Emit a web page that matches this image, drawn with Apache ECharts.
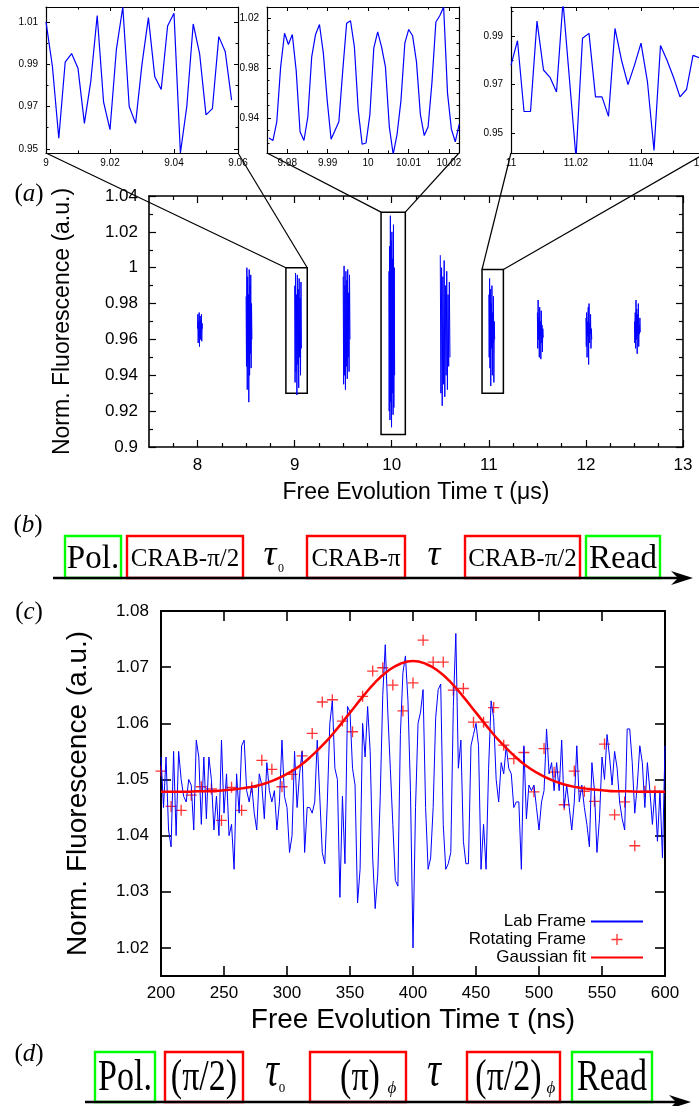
<!DOCTYPE html>
<html>
<head>
<meta charset="utf-8">
<title>Fluorescence vs free evolution time</title>
<script src="https://cdn.jsdelivr.net/npm/echarts@6.0.0/dist/echarts.min.js"></script>
<style>
  html, body { margin: 0; padding: 0; background: #fff; }
  #chart { width: 699px; height: 1106px; }
</style>
</head>
<body>
<div id="chart"></div>
<script>
// ---------- values ----------

// panel (a): one short burst of samples every 0.5 us
const burstStart = [8.0, 8.5, 9.0, 9.5, 9.97, 10.5, 11.0, 11.5, 12.0, 12.5];
const burstSpan = [0.05, 0.06, 0.07, 0.07, 0.06, 0.1, 0.06, 0.06, 0.06, 0.06];
const burstValues = [
  [0.966, 0.974, 0.958, 0.970, 0.962, 0.975, 0.956, 0.968, 0.973, 0.960, 0.971, 0.964, 0.974, 0.959, 0.969, 0.966],
  [0.984, 0.945, 1.000, 0.932, 0.995, 0.948, 0.985, 0.925, 0.999, 0.940, 0.990, 0.952, 0.996, 0.944, 0.980, 0.960],
  [0.990, 0.936, 0.997, 0.942, 0.985, 0.929, 0.996, 0.946, 0.988, 0.933, 0.994, 0.950, 0.983, 0.940, 0.992, 0.955],
  [0.995, 0.935, 1.001, 0.940, 0.990, 0.932, 0.998, 0.945, 0.993, 0.938, 0.999, 0.950, 0.986, 0.942, 0.996, 0.960],
  [0.998, 0.920, 1.012, 0.915, 1.029, 0.925, 1.015, 0.911, 1.020, 0.930, 1.005, 0.918, 1.024, 0.922, 1.000, 0.940],
  [1.007, 0.930, 1.000, 0.923, 0.995, 0.935, 1.004, 0.928, 0.990, 0.940, 0.998, 0.932, 0.985, 0.945, 0.992, 0.950],
  [0.985, 0.950, 0.994, 0.944, 0.988, 0.934, 0.980, 0.955, 0.990, 0.940, 0.975, 0.958, 0.984, 0.936, 0.970, 0.960],
  [0.975, 0.955, 0.982, 0.960, 0.972, 0.950, 0.978, 0.962, 0.970, 0.949, 0.976, 0.958, 0.968, 0.953, 0.966, 0.961],
  [0.972, 0.956, 0.975, 0.950, 0.970, 0.962, 0.978, 0.946, 0.980, 0.958, 0.969, 0.963, 0.974, 0.955, 0.966, 0.960],
  [0.970, 0.958, 0.975, 0.955, 0.982, 0.960, 0.977, 0.952, 0.974, 0.962, 0.980, 0.956, 0.968, 0.963, 0.972, 0.964]
];
// zoom windows marked on panel (a): [x0, x1, y0, y1]
const zoomBoxes = [[8.91, 9.13, 0.93, 1.0], [9.89, 10.14, 0.907, 1.031], [10.93, 11.15, 0.93, 0.999]];

// the three insets
const insetAStart = 9.0, insetAStep = 0.002;
const insetAValues = [1.010, 0.989, 0.955, 0.991, 0.995, 0.988, 0.962, 0.982, 1.013, 0.972,
  0.959, 0.997, 1.017, 0.970, 0.962, 0.990, 1.012, 0.984, 0.978, 1.008,
  1.014, 0.948, 0.970, 1.009, 0.995, 0.966, 0.969, 1.003, 0.996, 0.973];
const insetBStart = 9.9755, insetBStep = 0.00096;
const insetBValues = [0.924, 0.922, 0.937, 0.981, 1.008, 0.999, 1.007, 0.978, 0.929, 0.922,
  0.941, 0.989, 1.007, 1.015, 0.992, 0.954, 0.923, 0.930, 0.937, 0.978,
  1.016, 1.018, 0.997, 0.946, 0.919, 0.920, 0.943, 0.996, 1.009, 0.997,
  0.981, 0.933, 0.911, 0.927, 0.954, 1.000, 1.011, 1.006, 0.985, 0.943,
  0.926, 0.933, 0.969, 1.017, 1.022, 1.029, 0.960, 0.931, 0.921, 0.935];
const insetCStart = 11.0, insetCStep = 0.002;
const insetCValues = [0.978, 0.988, 0.959, 0.959, 0.996, 0.976, 0.973, 0.967, 1.004, 0.972,
  0.940, 0.989, 0.991, 0.965, 0.965, 0.957, 0.993, 0.980, 0.970, 0.978,
  0.987, 0.971, 0.943, 0.986, 0.980, 0.973, 0.965, 0.968, 0.982, 0.981];

// panel (c)
const labStart = 200, labStep = 2;
const labValues = [
  1.054, 1.045, 1.054, 1.041, 1.038, 1.055, 1.040, 1.055, 1.050, 1.047,
  1.046, 1.050, 1.049, 1.041, 1.057, 1.054, 1.042, 1.054, 1.043, 1.054,
  1.050, 1.041, 1.047, 1.040, 1.057, 1.044, 1.051, 1.040, 1.042, 1.034,
  1.051, 1.044, 1.056, 1.057, 1.048, 1.046, 1.049, 1.044, 1.041, 1.051,
  1.049, 1.043, 1.053, 1.048, 1.046, 1.048, 1.041, 1.046, 1.057, 1.047,
  1.045, 1.037, 1.040, 1.055, 1.045, 1.051, 1.055, 1.037, 1.045, 1.045,
  1.044, 1.046, 1.057, 1.047, 1.037, 1.035, 1.046, 1.060, 1.064, 1.052,
  1.050, 1.029, 1.047, 1.035, 1.063, 1.062, 1.052, 1.049, 1.028, 1.034,
  1.060, 1.054, 1.063, 1.055, 1.036, 1.027, 1.033, 1.047, 1.065, 1.074,
  1.062, 1.052, 1.042, 1.032, 1.031, 1.058, 1.069, 1.072, 1.064, 1.048,
  1.020, 1.045, 1.060, 1.062, 1.066, 1.045, 1.034, 1.036, 1.045, 1.061,
  1.066, 1.067, 1.042, 1.034, 1.035, 1.037, 1.063, 1.076, 1.052, 1.057,
  1.039, 1.035, 1.035, 1.056, 1.058, 1.060, 1.056, 1.034, 1.042, 1.034,
  1.052, 1.064, 1.061, 1.050, 1.046, 1.053, 1.051, 1.056, 1.052, 1.051,
  1.045, 1.046, 1.046, 1.034, 1.056, 1.043, 1.049, 1.048, 1.049, 1.045,
  1.041, 1.046, 1.048, 1.059, 1.051, 1.053, 1.048, 1.053, 1.048, 1.057,
  1.045, 1.049, 1.045, 1.041, 1.046, 1.056, 1.046, 1.049, 1.045, 1.042,
  1.038, 1.053, 1.048, 1.037, 1.043, 1.054, 1.050, 1.058, 1.054, 1.049,
  1.055, 1.052, 1.046, 1.043, 1.041, 1.059, 1.059, 1.053, 1.044, 1.049,
  1.056, 1.053, 1.045, 1.053, 1.048, 1.042, 1.048, 1.039, 1.048, 1.036,
  1.056
];
const rotStart = 200, rotStep = 8;
const rotValues = [
  1.0515, 1.0452, 1.0445, 1.0472, 1.0487, 1.0483, 1.0427, 1.0486, 1.0445, 1.0486,
  1.0534, 1.0518, 1.0487, 1.0509, 1.0542, 1.0582, 1.0638, 1.0642, 1.0604, 1.0585,
  1.0648, 1.0693, 1.0699, 1.0668, 1.0622, 1.0672, 1.0748, 1.0709, 1.0709, 1.0659,
  1.0662, 1.0602, 1.0602, 1.0628, 1.0561, 1.0537, 1.0548, 1.0478, 1.0555, 1.0513,
  1.0455, 1.0515, 1.0479, 1.0461, 1.0563, 1.0437, 1.0460, 1.0382, 1.0479, 1.0479
];
const fitStart = 200, fitStep = 10;
const fitValues = [
  1.0478, 1.0478, 1.0478, 1.0479, 1.0479, 1.0481, 1.0483, 1.0486, 1.0491, 1.0499,
  1.0510, 1.0524, 1.0543, 1.0565, 1.0591, 1.0619, 1.0647, 1.0673, 1.0693, 1.0706,
  1.0711, 1.0706, 1.0693, 1.0673, 1.0647, 1.0619, 1.0591, 1.0565, 1.0543, 1.0524,
  1.0510, 1.0499, 1.0491, 1.0486, 1.0483, 1.0481, 1.0479, 1.0479, 1.0478, 1.0478,
  1.0478
];

// axis ranges and tick labels
const insetAX = [9, 9.06], insetAY = [0.948, 1.017];
const insetBX = [9.975, 10.0225], insetBY = [0.912, 1.029];
const insetCX = [11, 11.06], insetCY = [0.942, 1.0018];
const panelAX = [7.5, 13], panelAY = [0.9, 1.04];
const panelCX = [200, 600], panelCY = [1.015, 1.08];

const insetAXTicks = [9, 9.02, 9.04, 9.06], insetAXMinor = [9.01, 9.03, 9.05];
const insetAYTicks = [0.95, 0.97, 0.99, 1.01], insetAYMinor = [0.96, 0.98, 1.0];
const insetBXTicks = [9.98, 9.99, 10, 10.01, 10.02], insetBXMinor = [9.985, 9.995, 10.005, 10.015];
const insetBYTicks = [0.94, 0.98, 1.02], insetBYMinor = [0.92, 0.93, 0.95, 0.96, 0.97, 0.99, 1.0, 1.01];
const insetCXTicks = [11, 11.02, 11.04, 11.06], insetCXMinor = [11.01, 11.03, 11.05];
const insetCYTicks = [0.95, 0.97, 0.99], insetCYMinor = [0.96, 0.98, 1.0];
const panelAXTicks = [8, 9, 10, 11, 12, 13];
const panelAXMinor = [7.75, 8.25, 8.5, 8.75, 9.25, 9.5, 9.75, 10.25, 10.5, 10.75, 11.25, 11.5, 11.75, 12.25, 12.5, 12.75];
const panelAYTicks = [0.9, 0.92, 0.94, 0.96, 0.98, 1, 1.02, 1.04];
const panelAYMinor = [0.91, 0.93, 0.95, 0.97, 0.99, 1.01, 1.03];
const panelCXTicks = [200, 250, 300, 350, 400, 450, 500, 550, 600];
const panelCYTicks = [1.02, 1.03, 1.04, 1.05, 1.06, 1.07, 1.08];

// ---------- layout and style ----------
const SANS = "'Liberation Sans', Arial, Helvetica, sans-serif";
const SERIF = "'Liberation Serif', 'DejaVu Serif', serif";
const BLUE = '#0000ff', RED = '#ff0000', GREEN = '#00ff00';

const grids = [
  { left: 46, top: 7, width: 192, height: 146 },   // inset at 9 us
  { left: 267, top: 7, width: 192, height: 146 },  // inset at 10 us
  { left: 511, top: 7, width: 195, height: 146 },  // inset at 11 us (runs off the page)
  { left: 149, top: 196, width: 534, height: 251 },// panel (a)
  { left: 161, top: 611, width: 504, height: 365 } // panel (c)
];

const insetStyle = { line: 1.2, tick: 4, minorTick: 2.5, tickWidth: 1, font: 10, xMargin: 5, yMargin: 8 };
const panelAStyle = { line: 1.6, tick: 7, minorTick: 4, tickWidth: 1.2, font: 17, xMargin: 10, yMargin: 11,
  nameFont: 23, xNameGap: 34, yNameGap: 75 };
const panelCStyle = { line: 2, tick: 10, minorTick: 0, tickWidth: 1.6, font: 17, xMargin: 9, yMargin: 12,
  nameFont: 28, xNameGap: 30, yNameGap: 69 };

function fmt(v) { return String(parseFloat(Number(v).toFixed(4))); }

const xAxes = [], yAxes = [];
// main axis with labels + mirrored axis on the opposite side, each with optional minor ticks
function addAxes(list, gridIndex, dim, range, s, ticks, minor, name) {
  const sides = dim === 'x' ? ['bottom', 'top'] : ['left', 'right'];
  const first = list.length;
  sides.forEach(function (side, k) {
    const ax = {
      gridIndex: gridIndex, type: 'value', position: side,
      min: range[0], max: range[1],
      splitLine: { show: false },
      axisLine: { show: true, onZero: false, lineStyle: { color: '#000', width: s.line } },
      axisTick: { show: true, inside: true, length: s.tick, customValues: ticks,
        lineStyle: { color: '#000', width: s.tickWidth } },
      axisLabel: { show: false }
    };
    if (k === 0) {
      ax.axisLabel = { show: true, customValues: ticks, formatter: fmt, fontFamily: SANS,
        fontSize: s.font, color: '#000', margin: dim === 'x' ? s.xMargin : s.yMargin };
      if (name) {
        ax.name = name;
        ax.nameLocation = 'middle';
        ax.nameGap = dim === 'x' ? s.xNameGap : s.yNameGap;
        ax.nameTextStyle = { fontFamily: SANS, fontSize: s.nameFont, color: '#000' };
      }
    }
    list.push(ax);
    if (minor) {
      list.push({
        gridIndex: gridIndex, type: 'value', position: side,
        min: range[0], max: range[1],
        splitLine: { show: false },
        axisLine: { show: false, onZero: false },
        axisTick: { show: true, inside: true, length: s.minorTick, customValues: minor,
          lineStyle: { color: '#000', width: s.tickWidth } },
        axisLabel: { show: false }
      });
    }
  });
  return first;
}

const insA = { x: addAxes(xAxes, 0, 'x', insetAX, insetStyle, insetAXTicks, insetAXMinor),
               y: addAxes(yAxes, 0, 'y', insetAY, insetStyle, insetAYTicks, insetAYMinor) };
const insB = { x: addAxes(xAxes, 1, 'x', insetBX, insetStyle, insetBXTicks, insetBXMinor),
               y: addAxes(yAxes, 1, 'y', insetBY, insetStyle, insetBYTicks, insetBYMinor) };
const insC = { x: addAxes(xAxes, 2, 'x', insetCX, insetStyle, insetCXTicks, insetCXMinor),
               y: addAxes(yAxes, 2, 'y', insetCY, insetStyle, insetCYTicks, insetCYMinor) };
const pa = { x: addAxes(xAxes, 3, 'x', panelAX, panelAStyle, panelAXTicks, panelAXMinor, 'Free Evolution Time \u03c4 (\u03bcs)'),
             y: addAxes(yAxes, 3, 'y', panelAY, panelAStyle, panelAYTicks, panelAYMinor, 'Norm. Fluorescence (a.u.)') };
const pc = { x: addAxes(xAxes, 4, 'x', panelCX, panelCStyle, panelCXTicks, null, 'Free Evolution Time \u03c4 (ns)'),
             y: addAxes(yAxes, 4, 'y', panelCY, panelCStyle, panelCYTicks, null, 'Norm. Fluorescence (a.u.)') };

function sampled(start, step, values) {
  return values.map(function (v, i) { return [start + i * step, v]; });
}

const series = [];
function blueLine(name, ax, data, width) {
  series.push({
    name: name, type: 'line', xAxisIndex: ax.x, yAxisIndex: ax.y, data: data,
    symbol: 'none', showSymbol: false, clip: true,
    lineStyle: { color: BLUE, width: width }, itemStyle: { color: BLUE }
  });
}
blueLine('insetA', insA, sampled(insetAStart, insetAStep, insetAValues), 1.2);
blueLine('insetB', insB, sampled(insetBStart, insetBStep, insetBValues), 1.2);
blueLine('insetC', insC, sampled(insetCStart, insetCStep, insetCValues), 1.2);

burstValues.forEach(function (vals, k) {
  const step = burstSpan[k] / (vals.length - 1);
  blueLine('burst' + k, pa, sampled(burstStart[k], step, vals), 1);
});
// zoom windows as rectangles on the panel (a) scale
series[3].markArea = {
  silent: true,
  label: { show: false },
  itemStyle: { color: 'rgba(0,0,0,0)', borderColor: '#000', borderWidth: 1.5 },
  data: zoomBoxes.map(function (b) { return [{ xAxis: b[0], yAxis: b[3] }, { xAxis: b[1], yAxis: b[2] }]; })
};

series.push({
  name: 'Lab Frame', type: 'line', xAxisIndex: pc.x, yAxisIndex: pc.y,
  data: sampled(labStart, labStep, labValues),
  symbol: 'none', showSymbol: false,
  lineStyle: { color: BLUE, width: 1 }, itemStyle: { color: BLUE }
});
series.push({
  name: 'Rotating Frame', type: 'scatter', xAxisIndex: pc.x, yAxisIndex: pc.y,
  data: sampled(rotStart, rotStep, rotValues),
  symbol: 'path://M4.4,0H5.6V4.4H10V5.6H5.6V10H4.4V5.6H0V4.4H4.4Z', symbolSize: 11,
  itemStyle: { color: RED }
});
series.push({
  name: 'Gaussian fit', type: 'line', xAxisIndex: pc.x, yAxisIndex: pc.y,
  data: sampled(fitStart, fitStep, fitValues),
  symbol: 'none', showSymbol: false, smooth: 0.5,
  lineStyle: { color: RED, width: 2.5 }, itemStyle: { color: RED }
});

// ---------- panel letters and pulse-sequence sketches ----------
const graphics = [];
function panelLetter(id, letter, x, y) {
  graphics.push({
    type: 'text', id: id, x: x, y: y,
    style: {
      text: '{p|(}{i|' + letter + '}{p|)}', align: 'center', verticalAlign: 'middle',
      rich: {
        p: { fontFamily: SERIF, fontSize: 25, fill: '#000' },
        i: { fontFamily: SERIF, fontSize: 25, fontStyle: 'italic', fill: '#000' }
      }
    }
  });
}
panelLetter('la', 'a', 29, 194);
panelLetter('lb', 'b', 28, 525);
panelLetter('lc', 'c', 29, 612);
panelLetter('ld', 'd', 29, 1054);

const seqB = {
  top: 536, base: 578, arrow: [53, 693], textY: 559, sy: 1,
  boxes: [
    { x0: 65, x1: 121, color: GREEN, text: 'Pol.', size: 33 },
    { x0: 127, x1: 243, color: RED, text: 'CRAB-\u03c0/2', size: 25 },
    { x0: 307, x1: 405, color: RED, text: 'CRAB-\u03c0', size: 25 },
    { x0: 465, x1: 580, color: RED, text: 'CRAB-\u03c0/2', size: 25 },
    { x0: 586, x1: 660, color: GREEN, text: 'Read', size: 33 }
  ],
  marks: [
    { x: 270, y: 556, text: '\u03c4', size: 36, italic: true },
    { x: 281, y: 569, text: '0', size: 12 },
    { x: 434, y: 556, text: '\u03c4', size: 36, italic: true }
  ]
};
const seqD = {
  top: 1052, base: 1102, arrow: [85, 691], textY: 1078, sy: 1.33,
  boxes: [
    { x0: 95, x1: 155, color: GREEN, text: 'Pol.', size: 34 },
    { x0: 165, x1: 243, color: RED, text: '(\u03c0/2)', size: 34 },
    { x0: 310, x1: 406, color: RED, text: '(\u03c0)', size: 34, dx: 2 },
    { x0: 467, x1: 560, color: RED, text: '(\u03c0/2)', size: 34, dx: -5 },
    { x0: 572, x1: 652, color: GREEN, text: 'Read', size: 34 }
  ],
  marks: [
    { x: 272, y: 1073, text: '\u03c4', size: 38, italic: true, sy: 1.33 },
    { x: 282, y: 1089, text: '0', size: 13 },
    { x: 392, y: 1089, text: '\u03d5', size: 17, italic: true },
    { x: 551, y: 1089, text: '\u03d5', size: 17, italic: true },
    { x: 434, y: 1073, text: '\u03c4', size: 38, italic: true, sy: 1.33 }
  ]
};

function pulseRow(id, row) {
  row.boxes.forEach(function (b, i) {
    graphics.push({
      type: 'rect', id: id + 'box' + i,
      shape: { x: b.x0, y: row.top, width: b.x1 - b.x0, height: row.base - row.top },
      style: { fill: 'none', stroke: b.color, lineWidth: 2.4 }
    });
    graphics.push({
      type: 'text', id: id + 'txt' + i, x: (b.x0 + b.x1) / 2 + (b.dx || 0), y: row.textY, scaleY: row.sy,
      style: { text: b.text, fontFamily: SERIF, fontSize: b.size, fill: '#000', align: 'center', verticalAlign: 'middle' }
    });
  });
  row.marks.forEach(function (m, i) {
    graphics.push({
      type: 'text', id: id + 'mark' + i, x: m.x, y: m.y, scaleY: m.sy || 1,
      style: { text: m.text, fontFamily: SERIF, fontSize: m.size, fontStyle: m.italic ? 'italic' : 'normal',
        fill: '#000', align: 'center', verticalAlign: 'middle' }
    });
  });
  graphics.push({
    type: 'line', id: id + 'axis',
    shape: { x1: row.arrow[0], y1: row.base, x2: row.arrow[1] - 8, y2: row.base },
    style: { stroke: '#000', lineWidth: 2.4 }
  });
  const tip = row.arrow[1];
  graphics.push({
    type: 'polygon', id: id + 'head',
    shape: { points: [[tip, row.base], [tip - 22, row.base - 7], [tip - 15, row.base], [tip - 22, row.base + 7]] },
    style: { fill: '#000' }
  });
}
pulseRow('b', seqB);
pulseRow('d', seqD);

const hiddenMark = { color: 'rgba(0,0,0,0)', borderWidth: 0, opacity: 0 };
const option = {
  animation: false,
  backgroundColor: '#fff',
  grid: grids.map(function (g) { return Object.assign({ containLabel: false, outerBoundsMode: 'none' }, g); }),
  xAxis: xAxes,
  yAxis: yAxes,
  legend: {
    data: [
      { name: 'Lab Frame', itemStyle: hiddenMark },
      { name: 'Rotating Frame' },
      { name: 'Gaussian fit', itemStyle: hiddenMark }
    ],
    orient: 'vertical', align: 'right', right: 55, top: 913, padding: 0,
    itemWidth: 52, itemHeight: 11, itemGap: 1, selectedMode: false,
    textStyle: { fontFamily: SANS, fontSize: 17, color: '#000', lineHeight: 17 }
  },
  series: series,
  graphic: graphics
};

const chart = echarts.init(document.getElementById('chart'));
chart.setOption(option);

// lines joining each zoom window on panel (a) to the bottom corners of its inset
const insets = [[insA, insetAX, insetAY], [insB, insetBX, insetBY], [insC, insetCX, insetCY]];
const links = [];
zoomBoxes.forEach(function (b, i) {
  const ax = insets[i][0], xr = insets[i][1], yr = insets[i][2];
  const boxL = chart.convertToPixel({ xAxisIndex: pa.x, yAxisIndex: pa.y }, [b[0], b[3]]);
  const boxR = chart.convertToPixel({ xAxisIndex: pa.x, yAxisIndex: pa.y }, [b[1], b[3]]);
  const insL = chart.convertToPixel({ xAxisIndex: ax.x, yAxisIndex: ax.y }, [xr[0], yr[0]]);
  const insR = chart.convertToPixel({ xAxisIndex: ax.x, yAxisIndex: ax.y }, [xr[1], yr[0]]);
  [[boxL, insL], [boxR, insR]].forEach(function (p, k) {
    links.push({
      type: 'line', id: 'link' + i + k, z: 10,
      shape: { x1: p[0][0], y1: p[0][1], x2: p[1][0], y2: p[1][1] },
      style: { stroke: '#000', lineWidth: 1.2 }
    });
  });
});
chart.setOption({ graphic: graphics.concat(links) });
</script>
</body>
</html>
